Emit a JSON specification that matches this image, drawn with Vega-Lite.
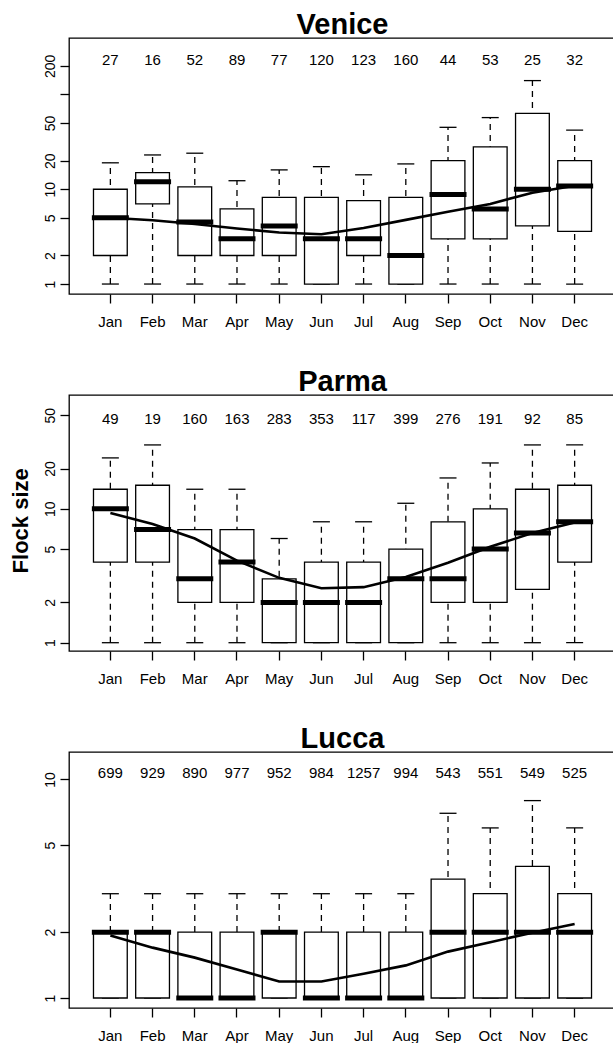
{
  "$schema": "https://vega.github.io/schema/vega-lite/v6.json",
  "padding": {"left": 8, "top": 10, "right": 0, "bottom": 0},
  "background": "white",
  "config": {
    "font": "Liberation Sans",
    "view": {"stroke": "black", "strokeWidth": 1.3},
    "tick": {"opacity": 1},
    "axis": {"domain": false, "grid": false, "tickColor": "black", "tickWidth": 1.3, "tickSize": 9, "labelColor": "black", "titleColor": "black", "labelOverlap": false, "labelFlush": false, "labelBound": false}
  },
  "datasets": {
    "venice": [
      {"month": "Jan", "lo": 1, "q1": 2, "med": 5, "q3": 10, "hi": 19, "n": 27, "smooth": 5.0},
      {"month": "Feb", "lo": 1, "q1": 7, "med": 12, "q3": 15, "hi": 23, "n": 16, "smooth": 4.7},
      {"month": "Mar", "lo": 1, "q1": 2, "med": 4.5, "q3": 10.6, "hi": 24, "n": 52, "smooth": 4.3},
      {"month": "Apr", "lo": 1, "q1": 2, "med": 3, "q3": 6.2, "hi": 12.3, "n": 89, "smooth": 3.85},
      {"month": "May", "lo": 1, "q1": 2, "med": 4.1, "q3": 8.2, "hi": 16, "n": 77, "smooth": 3.5},
      {"month": "Jun", "lo": 1, "q1": 1, "med": 3, "q3": 8.2, "hi": 17.3, "n": 120, "smooth": 3.35},
      {"month": "Jul", "lo": 1, "q1": 2, "med": 3, "q3": 7.6, "hi": 14.2, "n": 123, "smooth": 3.9},
      {"month": "Aug", "lo": 1, "q1": 1, "med": 2, "q3": 8.2, "hi": 18.5, "n": 160, "smooth": 4.75},
      {"month": "Sep", "lo": 1, "q1": 3, "med": 8.8, "q3": 20, "hi": 45, "n": 44, "smooth": 5.8},
      {"month": "Oct", "lo": 1, "q1": 3, "med": 6.2, "q3": 28, "hi": 57, "n": 53, "smooth": 7.0},
      {"month": "Nov", "lo": 1, "q1": 4.1, "med": 10, "q3": 63, "hi": 140, "n": 25, "smooth": 9.2},
      {"month": "Dec", "lo": 1, "q1": 3.6, "med": 10.8, "q3": 20, "hi": 42, "n": 32, "smooth": 10.9}
    ],
    "parma": [
      {"month": "Jan", "lo": 1, "q1": 4, "med": 10, "q3": 14, "hi": 24, "n": 49, "smooth": 9.3},
      {"month": "Feb", "lo": 1, "q1": 4, "med": 7, "q3": 15, "hi": 30, "n": 19, "smooth": 7.7},
      {"month": "Mar", "lo": 1, "q1": 2, "med": 3, "q3": 7, "hi": 14, "n": 160, "smooth": 6.0},
      {"month": "Apr", "lo": 1, "q1": 2, "med": 4, "q3": 7, "hi": 14, "n": 163, "smooth": 4.1},
      {"month": "May", "lo": 1, "q1": 1, "med": 2, "q3": 3, "hi": 6, "n": 283, "smooth": 3.05},
      {"month": "Jun", "lo": 1, "q1": 1, "med": 2, "q3": 4, "hi": 8, "n": 353, "smooth": 2.55},
      {"month": "Jul", "lo": 1, "q1": 1, "med": 2, "q3": 4, "hi": 8, "n": 117, "smooth": 2.6},
      {"month": "Aug", "lo": 1, "q1": 1, "med": 3, "q3": 5, "hi": 11, "n": 399, "smooth": 3.1},
      {"month": "Sep", "lo": 1, "q1": 2, "med": 3, "q3": 8, "hi": 17, "n": 276, "smooth": 3.95},
      {"month": "Oct", "lo": 1, "q1": 2, "med": 5, "q3": 10, "hi": 22, "n": 191, "smooth": 5.2},
      {"month": "Nov", "lo": 1, "q1": 2.5, "med": 6.6, "q3": 14, "hi": 30, "n": 92, "smooth": 6.6},
      {"month": "Dec", "lo": 1, "q1": 4, "med": 8, "q3": 15, "hi": 30, "n": 85, "smooth": 7.9}
    ],
    "lucca": [
      {"month": "Jan", "lo": 1, "q1": 1, "med": 2, "q3": 2, "hi": 3, "n": 699, "smooth": 1.93},
      {"month": "Feb", "lo": 1, "q1": 1, "med": 2, "q3": 2, "hi": 3, "n": 929, "smooth": 1.7},
      {"month": "Mar", "lo": 1, "q1": 1, "med": 1, "q3": 2, "hi": 3, "n": 890, "smooth": 1.53},
      {"month": "Apr", "lo": 1, "q1": 1, "med": 1, "q3": 2, "hi": 3, "n": 977, "smooth": 1.35},
      {"month": "May", "lo": 1, "q1": 1, "med": 2, "q3": 2, "hi": 3, "n": 952, "smooth": 1.19},
      {"month": "Jun", "lo": 1, "q1": 1, "med": 1, "q3": 2, "hi": 3, "n": 984, "smooth": 1.19},
      {"month": "Jul", "lo": 1, "q1": 1, "med": 1, "q3": 2, "hi": 3, "n": 1257, "smooth": 1.29},
      {"month": "Aug", "lo": 1, "q1": 1, "med": 1, "q3": 2, "hi": 3, "n": 994, "smooth": 1.41},
      {"month": "Sep", "lo": 1, "q1": 1, "med": 2, "q3": 3.5, "hi": 7, "n": 543, "smooth": 1.63},
      {"month": "Oct", "lo": 1, "q1": 1, "med": 2, "q3": 3, "hi": 6, "n": 551, "smooth": 1.8},
      {"month": "Nov", "lo": 1, "q1": 1, "med": 2, "q3": 4, "hi": 8, "n": 549, "smooth": 1.99},
      {"month": "Dec", "lo": 1, "q1": 1, "med": 2, "q3": 3, "hi": 6, "n": 525, "smooth": 2.18}
    ]
  },
  "spacing": 101,
  "bounds": "flush",
  "vconcat": [
    {
      "width": 547, "height": 256,
      "title": {"text": "Venice", "fontSize": 29, "fontWeight": "bold", "frame": "group", "anchor": "middle", "baseline": "alphabetic", "offset": -25, "color": "black"},
      "data": {"name": "venice"},
      "encoding": {
        "x": {"field": "month", "type": "ordinal", "sort": ["Jan","Feb","Mar","Apr","May","Jun","Jul","Aug","Sep","Oct","Nov","Dec"],
              "scale": {"paddingInner": 0, "paddingOuter": 0.48},
              "axis": {"title": null, "labelAngle": 0, "labelBaseline": "alphabetic", "labelPadding": 23, "labelFontSize": 15, "bandPosition": 0.5}}
      },
      "layer": [
        {"mark": {"type": "rule", "strokeDash": [6, 5], "strokeWidth": 1.3, "color": "black"},
         "encoding": {"y": {"field": "lo", "type": "quantitative",
                            "scale": {"type": "log", "domain": [0.785, 394], "nice": false},
                            "axis": {"values": [1, 2, 5, 10, 20, 50, 100, 200], "labelExpr": "datum.value == 100 ? '' : '' + datum.value", "labelAngle": 270, "labelAlign": "center", "labelBaseline": "alphabetic", "labelPadding": 5.7, "labelFontSize": 14, "title": null}},
                      "y2": {"field": "hi"}}},
        {"mark": {"type": "tick", "size": 17, "thickness": 1.3, "color": "black"}, "encoding": {"y": {"field": "lo", "type": "quantitative"}}},
        {"mark": {"type": "tick", "size": 17, "thickness": 1.3, "color": "black"}, "encoding": {"y": {"field": "hi", "type": "quantitative"}}},
        {"mark": {"type": "bar", "fill": "white", "stroke": "black", "strokeWidth": 1.3, "width": {"band": 0.8}},
         "encoding": {"y": {"field": "q1", "type": "quantitative"}, "y2": {"field": "q3"}}},
        {"mark": {"type": "tick", "size": 37, "thickness": 5, "color": "black"}, "encoding": {"y": {"field": "med", "type": "quantitative"}}},
        {"mark": {"type": "line", "color": "black", "strokeWidth": 2.6}, "encoding": {"y": {"field": "smooth", "type": "quantitative"}}},
        {"mark": {"type": "text", "fontSize": 15, "baseline": "middle", "color": "black"}, "encoding": {"y": {"datum": 233}, "text": {"field": "n", "type": "quantitative"}}}
      ]
    },
    {
      "width": 547, "height": 256,
      "title": {"text": "Parma", "fontSize": 29, "fontWeight": "bold", "frame": "group", "anchor": "middle", "baseline": "alphabetic", "offset": -25, "color": "black"},
      "data": {"name": "parma"},
      "encoding": {
        "x": {"field": "month", "type": "ordinal", "sort": ["Jan","Feb","Mar","Apr","May","Jun","Jul","Aug","Sep","Oct","Nov","Dec"],
              "scale": {"paddingInner": 0, "paddingOuter": 0.48},
              "axis": {"title": null, "labelAngle": 0, "labelBaseline": "alphabetic", "labelPadding": 23, "labelFontSize": 15, "bandPosition": 0.5}}
      },
      "layer": [
        {"mark": {"type": "rule", "strokeDash": [6, 5], "strokeWidth": 1.3, "color": "black"},
         "encoding": {"y": {"field": "lo", "type": "quantitative",
                            "scale": {"type": "log", "domain": [0.867, 70.8], "nice": false},
                            "axis": {"values": [1, 2, 5, 10, 20, 50], "labelExpr": "'' + datum.value", "labelAngle": 270, "labelAlign": "center", "labelBaseline": "alphabetic", "labelPadding": 5.7, "labelFontSize": 14,
                                     "title": "Flock size", "titleFontSize": 22, "titleFontWeight": "bold", "titleAngle": 270, "titleAlign": "center", "titleBaseline": "alphabetic", "titleX": -41.4, "titleY": 125.3}},
                      "y2": {"field": "hi"}}},
        {"mark": {"type": "tick", "size": 17, "thickness": 1.3, "color": "black"}, "encoding": {"y": {"field": "lo", "type": "quantitative"}}},
        {"mark": {"type": "tick", "size": 17, "thickness": 1.3, "color": "black"}, "encoding": {"y": {"field": "hi", "type": "quantitative"}}},
        {"mark": {"type": "bar", "fill": "white", "stroke": "black", "strokeWidth": 1.3, "width": {"band": 0.8}},
         "encoding": {"y": {"field": "q1", "type": "quantitative"}, "y2": {"field": "q3"}}},
        {"mark": {"type": "tick", "size": 37, "thickness": 5, "color": "black"}, "encoding": {"y": {"field": "med", "type": "quantitative"}}},
        {"mark": {"type": "line", "color": "black", "strokeWidth": 2.6}, "encoding": {"y": {"field": "smooth", "type": "quantitative"}}},
        {"mark": {"type": "text", "fontSize": 15, "baseline": "middle", "color": "black"}, "encoding": {"y": {"datum": 47}, "text": {"field": "n", "type": "quantitative"}}}
      ]
    },
    {
      "width": 547, "height": 256,
      "title": {"text": "Lucca", "fontSize": 29, "fontWeight": "bold", "frame": "group", "anchor": "middle", "baseline": "alphabetic", "offset": -25, "color": "black"},
      "data": {"name": "lucca"},
      "encoding": {
        "x": {"field": "month", "type": "ordinal", "sort": ["Jan","Feb","Mar","Apr","May","Jun","Jul","Aug","Sep","Oct","Nov","Dec"],
              "scale": {"paddingInner": 0, "paddingOuter": 0.48},
              "axis": {"title": null, "labelAngle": 0, "labelBaseline": "alphabetic", "labelPadding": 23, "labelFontSize": 15, "bandPosition": 0.5}}
      },
      "layer": [
        {"mark": {"type": "rule", "strokeDash": [6, 5], "strokeWidth": 1.3, "color": "black"},
         "encoding": {"y": {"field": "lo", "type": "quantitative",
                            "scale": {"type": "log", "domain": [0.9, 13.35], "nice": false},
                            "axis": {"values": [1, 2, 5, 10], "labelExpr": "'' + datum.value", "labelAngle": 270, "labelAlign": "center", "labelBaseline": "alphabetic", "labelPadding": 5.7, "labelFontSize": 14, "title": null}},
                      "y2": {"field": "hi"}}},
        {"mark": {"type": "tick", "size": 17, "thickness": 1.3, "color": "black"}, "encoding": {"y": {"field": "lo", "type": "quantitative"}}},
        {"mark": {"type": "tick", "size": 17, "thickness": 1.3, "color": "black"}, "encoding": {"y": {"field": "hi", "type": "quantitative"}}},
        {"mark": {"type": "bar", "fill": "white", "stroke": "black", "strokeWidth": 1.3, "width": {"band": 0.8}},
         "encoding": {"y": {"field": "q1", "type": "quantitative"}, "y2": {"field": "q3"}}},
        {"mark": {"type": "tick", "size": 37, "thickness": 5, "color": "black"}, "encoding": {"y": {"field": "med", "type": "quantitative"}}},
        {"mark": {"type": "line", "color": "black", "strokeWidth": 2.6}, "encoding": {"y": {"field": "smooth", "type": "quantitative"}}},
        {"mark": {"type": "text", "fontSize": 15, "baseline": "middle", "color": "black"}, "encoding": {"y": {"datum": 10.7}, "text": {"field": "n", "type": "quantitative"}}}
      ]
    }
  ]
}
